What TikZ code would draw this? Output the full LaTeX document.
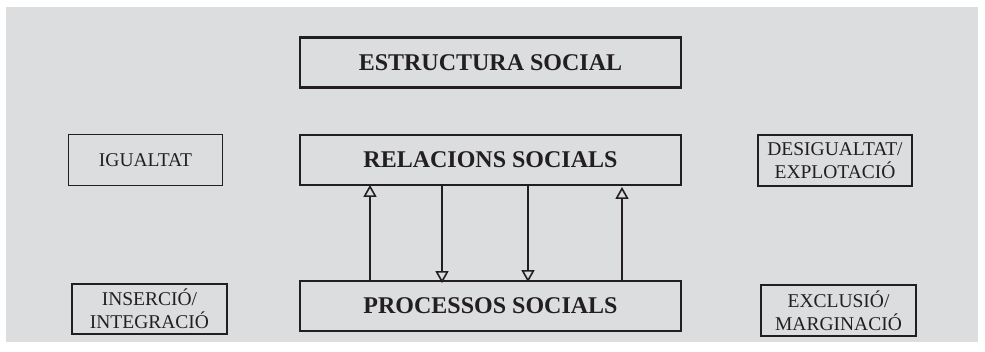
\documentclass[tikz,border=0pt]{standalone}
\usepackage{fontspec}
\setmainfont{Liberation Serif}
\usetikzlibrary{arrows.meta,positioning}
\definecolor{panel}{HTML}{DCDDDF}
\definecolor{ink}{HTML}{231F20}
\tikzset{
  mainbox/.style={draw=ink,text=ink,line width=1.8pt,minimum width=381pt,minimum height=50pt,
    font=\fontsize{24}{28}\selectfont\bfseries},
  sidebox/.style={draw=ink,text=ink,line width=1.8pt,minimum width=154pt,minimum height=51pt,
    align=center,inner sep=1pt,font=\fontsize{19.5}{23}\selectfont},
  tip/.style={draw=ink,line width=1.6pt,-{Triangle[open,length=12pt,width=13pt,line width=1.6pt]}}
}
\begin{document}
\begin{tikzpicture}[x=1pt,y=-1pt]
  \useasboundingbox (0,0) rectangle (985,351);
  \fill[white] (0,0) rectangle (985,351);
  \fill[panel] (6,7) rectangle (978,342);
  \node[mainbox,line width=2.4pt] (estr) at (490.5,62.5) {ESTRUCTURA SOCIAL};
  \node[mainbox] (rel) at (490.5,160) {RELACIONS SOCIALS};
  \node[mainbox] (proc) at (490.5,306) {PROCESSOS SOCIALS};
  \node[sidebox] (igu) at (145.5,160) {IGUALTAT};
  \node[sidebox,minimum width=155pt,minimum height=50pt] (ins) at (149.5,309) {INSERCIÓ/\\INTEGRACIÓ};
  \node[sidebox] (des) at (835,160.5) {DESIGUALTAT/\\EXPLOTACIÓ};
  \node[sidebox,minimum width=155pt] (exc) at (838.5,310.5) {EXCLUSIÓ/\\MARGINACIÓ};
  \draw [tip,line width=2pt] ([xshift=-120.5pt]proc.north) -- ([xshift=-120.5pt,yshift=1pt]rel.south);
  \draw [tip] ([xshift=-48.5pt]rel.south) -- ([xshift=-48.5pt,yshift=-3pt]proc.north);
  \draw [tip] ([xshift=37.5pt]rel.south) -- ([xshift=37.5pt,yshift=-2pt]proc.north);
  \draw [tip,line width=2pt] ([xshift=131.5pt]proc.north) -- ([xshift=131.5pt,yshift=-1pt]rel.south);
\end{tikzpicture}
\end{document}
